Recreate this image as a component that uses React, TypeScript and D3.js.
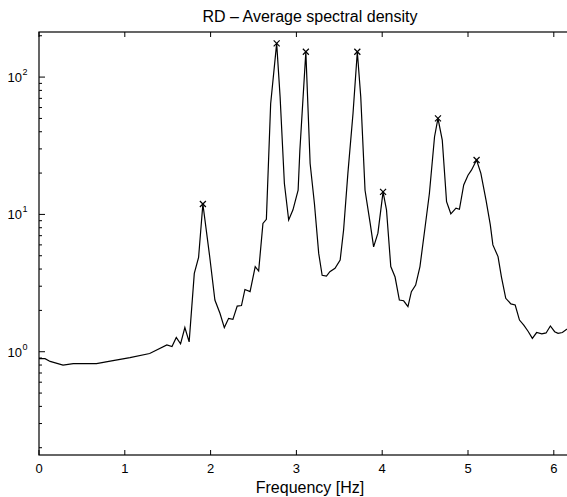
import { useEffect } from "react";
import * as d3 from "d3";

// frequency [Hz]
const freq = [
  0.0, 0.07, 0.13, 0.28, 0.4, 0.67, 0.83, 1.06, 1.29, 1.49, 1.55, 1.6, 1.65, 1.7, 1.75,
  1.81, 1.86, 1.91, 1.99, 2.05, 2.11, 2.16, 2.21, 2.26, 2.31, 2.36, 2.4, 2.46, 2.52, 2.56,
  2.61, 2.65, 2.7, 2.77, 2.81, 2.86, 2.91, 2.96, 3.02, 3.04, 3.11, 3.16, 3.21, 3.26, 3.3,
  3.35, 3.39, 3.45, 3.51, 3.55, 3.6, 3.66, 3.71, 3.75, 3.8, 3.86, 3.9, 3.95, 4.01, 4.05,
  4.1, 4.15, 4.2, 4.25, 4.3, 4.34, 4.39, 4.44, 4.5, 4.55, 4.61, 4.65, 4.7, 4.75, 4.8,
  4.86, 4.9, 4.95, 5.0, 5.04, 5.1, 5.15, 5.21, 5.26, 5.29, 5.35, 5.39, 5.44, 5.5, 5.55,
  5.6, 5.65, 5.7, 5.75, 5.8, 5.86, 5.91, 5.96, 6.01, 6.05, 6.1, 6.15, 6.2,
];
// average spectral density
const psd = [
  0.89, 0.89, 0.85, 0.8, 0.82, 0.82, 0.855, 0.905, 0.97, 1.12, 1.09, 1.27, 1.14, 1.5, 1.18,
  3.72, 4.87, 11.9, 4.9, 2.38, 1.9, 1.5, 1.75, 1.72, 2.15, 2.17, 2.84, 2.74, 4.16, 3.87,
  8.6, 9.2, 64, 176, 72, 16.8, 9.1, 10.8, 15, 29, 153, 23.5, 12, 5.2, 3.6,
  3.56, 3.83, 4.05, 4.65, 7.7, 19.9, 54.5, 153, 72, 15, 8.6, 5.8, 7.3, 14.6, 10.8,
  4.17, 3.5, 2.38, 2.35, 2.13, 2.74, 3.06, 4.17, 8.1, 14.2, 36.8, 50, 34.8, 12.4, 10.1,
  11.1, 10.9, 16.4, 19.3, 21, 24.9, 19.9, 12.7, 8.4, 6, 4.93, 3.5, 2.45, 2.23, 2.19,
  1.7, 1.56, 1.41, 1.25, 1.38, 1.35, 1.37, 1.54, 1.4, 1.36, 1.38, 1.46, 1.5,
];
// picked peaks (x markers)
const peakFreq = [1.91, 2.77, 3.11, 3.71, 4.01, 4.65, 5.1];
const peakVal = [11.9, 176, 153, 153, 14.6, 50, 24.9];

const xTicks = [0, 1, 2, 3, 4, 5, 6];
const yDecades = [0, 1, 2];

const W = 567;
const H = 497;
const left = 39;
const right = 581;
const top = 32;
const bottom = 455;
const font = "'Liberation Sans', Arial, Helvetica, sans-serif";

const App = () => {
  useEffect(() => {
    document.body.style.margin = "0";
  }, []);

  const x = d3.scaleLinear().domain([0, 6.317]).range([left, right]);
  const y = d3.scaleLog().domain([0.177, 213]).range([bottom, top]);

  const line = d3
    .line<number>()
    .x((_, i) => x(freq[i]))
    .y((d) => y(d));

  // minor log ticks
  const minor: number[] = [];
  for (let e = -1; e <= 2; e++) {
    for (let m = 2; m <= 9; m++) {
      const v = m * Math.pow(10, e);
      if (v > 0.177 && v < 213) minor.push(v);
    }
  }

  return (
    <svg width={W} height={H} style={{ display: "block", background: "#fff" }}>
      <text x={(left + right) / 2} y={22} textAnchor="middle" fontFamily={font} fontSize={16}>
        RD – Average spectral density
      </text>

      <clipPath id="plot">
        <rect x={left} y={top} width={right - left} height={bottom - top} />
      </clipPath>

      <path d={line(psd) || ""} fill="none" stroke="#000" strokeWidth={1.2} clipPath="url(#plot)" />

      {peakFreq.map((f, i) => {
        const cx = x(f);
        const cy = y(peakVal[i]);
        return (
          <g key={i} stroke="#000" strokeWidth={1.2}>
            <line x1={cx - 3} y1={cy - 3} x2={cx + 3} y2={cy + 3} />
            <line x1={cx - 3} y1={cy + 3} x2={cx + 3} y2={cy - 3} />
          </g>
        );
      })}

      {/* axes box */}
      <rect x={left} y={top} width={right - left} height={bottom - top} fill="none" stroke="#000" strokeWidth={1.2} />

      {xTicks.map((t) => (
        <g key={t}>
          <line x1={x(t)} x2={x(t)} y1={bottom} y2={bottom - 5} stroke="#000" />
          <line x1={x(t)} x2={x(t)} y1={top} y2={top + 5} stroke="#000" />
          <text x={x(t)} y={473} textAnchor="middle" fontFamily={font} fontSize={13}>
            {t}
          </text>
        </g>
      ))}

      {minor.map((v) => (
        <line key={v} x1={left} x2={left + 3} y1={y(v)} y2={y(v)} stroke="#000" />
      ))}

      {yDecades.map((e) => (
        <g key={e}>
          <line x1={left} x2={left + 6} y1={y(Math.pow(10, e))} y2={y(Math.pow(10, e))} stroke="#000" />
          <text x={22} y={y(Math.pow(10, e)) + 5} textAnchor="end" fontFamily={font} fontSize={13}>
            10
          </text>
          <text x={22.5} y={y(Math.pow(10, e)) - 2} fontFamily={font} fontSize={9}>
            {e}
          </text>
        </g>
      ))}

      <text x={(left + right) / 2} y={493} textAnchor="middle" fontFamily={font} fontSize={16}>
        Frequency [Hz]
      </text>
    </svg>
  );
};

export default App;
